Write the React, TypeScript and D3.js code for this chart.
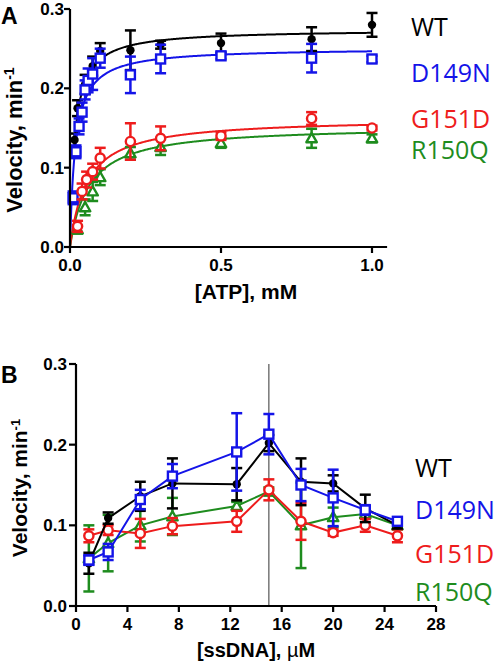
import React from "react";
import * as d3 from "d3";

// ---------- Panel A data: [ATP] (mM) vs velocity ----------
const WT_A_X = [0.015, 0.025, 0.05, 0.075, 0.1, 0.2, 0.3, 0.5, 0.8, 1.0];
const WT_A_V = [0.135, 0.175, 0.205, 0.228, 0.247, 0.248, 0.255, 0.257, 0.262, 0.28];
const WT_A_E = [0.008, 0.01, 0.012, 0.012, 0.01, 0.025, 0.005, 0.012, 0.015, 0.015];

const D149N_A_X = [0.01, 0.02, 0.03, 0.04, 0.05, 0.06, 0.075, 0.1, 0.2, 0.3, 0.5, 0.8, 1.0];
const D149N_A_V = [0.062, 0.12, 0.152, 0.17, 0.198, 0.21, 0.218, 0.238, 0.217, 0.237, 0.241, 0.238, 0.237];
const D149N_A_E = [0.008, 0.008, 0.01, 0.012, 0.012, 0.015, 0.02, 0.012, 0.023, 0.018, 0.004, 0.018, 0.004];

const G151D_A_X = [0.025, 0.04, 0.055, 0.075, 0.1, 0.2, 0.3, 0.5, 0.8, 1.0];
const G151D_A_V = [0.026, 0.07, 0.085, 0.095, 0.112, 0.133, 0.137, 0.14, 0.162, 0.15];
const G151D_A_E = [0.007, 0.01, 0.01, 0.01, 0.013, 0.023, 0.015, 0.005, 0.008, 0.003];

const R150Q_A_X = [0.025, 0.05, 0.075, 0.1, 0.2, 0.3, 0.5, 0.8, 1.0];
const R150Q_A_V = [0.022, 0.05, 0.07, 0.088, 0.118, 0.126, 0.131, 0.137, 0.137];
const R150Q_A_E = [0.005, 0.01, 0.012, 0.01, 0.008, 0.01, 0.006, 0.012, 0.005];

// Michaelis–Menten fit parameters: [Vmax, Km, xStart]
const FIT_WT = [0.2743, 0.016, 0.015];
const FIT_D149N = [0.251, 0.0176, 0];
const FIT_G151D = [0.1626, 0.0557, 0];
const FIT_R150Q = [0.153, 0.0623, 0];

const A_X_TICKS = [0, 0.5, 1.0];
const A_Y_TICKS = [0, 0.1, 0.2, 0.3];

// ---------- Panel B data: [ssDNA] (µM) vs velocity ----------
const SS_X = [1, 2.5, 5, 7.5, 12.5, 15, 17.5, 20, 22.5, 25];
const WT_B = [0.053, 0.109, 0.136, 0.152, 0.151, 0.202, 0.154, 0.152, 0.121, 0.1];
const WT_B_E = [0.013, 0.007, 0.018, 0.031, 0.02, 0.01, 0.029, 0.01, 0.017, 0.004];
const D149N_B = [0.057, 0.067, 0.132, 0.161, 0.191, 0.213, 0.15, 0.134, 0.119, 0.105];
const D149N_B_E = [0.006, 0.01, 0.012, 0.015, 0.048, 0.025, 0.02, 0.035, 0.006, 0.005];
const G151D_B = [0.087, 0.094, 0.09, 0.099, 0.105, 0.144, 0.105, 0.091, 0.1, 0.087];
const G151D_B_E = [0.008, 0.006, 0.018, 0.01, 0.013, 0.013, 0.023, 0.004, 0.008, 0.008];
const R150Q_B = [0.059, 0.078, 0.1, 0.111, 0.124, 0.142, 0.1, 0.11, 0.114, 0.1];
const R150Q_B_E = [0.041, 0.035, 0.02, 0.023, 0.005, 0.005, 0.053, 0.012, 0.005, 0.005];

const B_X_TICKS = [0, 4, 8, 12, 16, 20, 24, 28];
const B_Y_TICKS = [0, 0.1, 0.2, 0.3];
const B_MARK_X = 15;

const SERIES = ["WT", "D149N", "G151D", "R150Q"];

const COL: Record<string, string> = {
  WT: "#000000",
  D149N: "#1414e8",
  G151D: "#ee1c1c",
  R150Q: "#1e8c1e",
};

const TICK_FONT = "'Liberation Sans', Arial, sans-serif";
const LEGEND_FONT = "'Open Sans', 'Liberation Sans', sans-serif";

function Marker({ kind, x, y }: { kind: string; x: number; y: number }) {
  const c = COL[kind];
  if (kind === "WT") return <circle cx={x} cy={y} r={4.2} fill={c} />;
  if (kind === "D149N")
    return <rect x={x - 4.5} y={y - 4.5} width={9} height={9} fill="white" stroke={c} strokeWidth={2.4} />;
  if (kind === "G151D") return <circle cx={x} cy={y} r={4.6} fill="white" stroke={c} strokeWidth={2.4} />;
  const s = 5.2;
  const p = `M${x},${y - s}L${x + s},${y + s * 0.75}L${x - s},${y + s * 0.75}Z`;
  return <path d={p} fill="white" stroke={c} strokeWidth={2.4} strokeLinejoin="round" />;
}

function ErrBar({ x, y0, y1, color }: { x: number; y0: number; y1: number; color: string }) {
  const w = 5.5;
  return (
    <g stroke={color} strokeWidth={2.5}>
      <line x1={x} x2={x} y1={y0} y2={y1} />
      <line x1={x - w} x2={x + w} y1={y0} y2={y0} />
      <line x1={x - w} x2={x + w} y1={y1} y2={y1} />
    </g>
  );
}

export default function App() {
  // Panel A scales
  const xA = d3.scaleLinear().domain([0, 1.05]).range([70, 387.1]);
  const yA = d3.scaleLinear().domain([0, 0.3]).range([247, 9]);
  // Panel B scales
  const xB = d3.scaleLinear().domain([0, 28]).range([76, 436]);
  const yB = d3.scaleLinear().domain([0, 0.3]).range([606, 364]);

  const aData: Record<string, { x: number[]; v: number[]; e: number[]; fit: number[] }> = {
    WT: { x: WT_A_X, v: WT_A_V, e: WT_A_E, fit: FIT_WT },
    D149N: { x: D149N_A_X, v: D149N_A_V, e: D149N_A_E, fit: FIT_D149N },
    G151D: { x: G151D_A_X, v: G151D_A_V, e: G151D_A_E, fit: FIT_G151D },
    R150Q: { x: R150Q_A_X, v: R150Q_A_V, e: R150Q_A_E, fit: FIT_R150Q },
  };
  const bData: Record<string, { v: number[]; e: number[] }> = {
    WT: { v: WT_B, e: WT_B_E },
    D149N: { v: D149N_B, e: D149N_B_E },
    G151D: { v: G151D_B, e: G151D_B_E },
    R150Q: { v: R150Q_B, e: R150Q_B_E },
  };

  const lineA = d3
    .line<[number, number]>()
    .x((d) => xA(d[0]))
    .y((d) => yA(d[1]));
  const lineB = d3
    .line<number>()
    .x((_, i) => xB(SS_X[i]))
    .y((d) => yB(d));

  const fitPath = (fit: number[]) => {
    const [vm, km, x0] = fit;
    const xs = d3.range(0, 401).map((i) => x0 + ((1 - x0) * i) / 400);
    return lineA(xs.map((x) => [x, (vm * x) / (km + x)] as [number, number])) || "";
  };

  const drawOrderA = ["WT", "D149N", "R150Q", "G151D"];
  const drawOrderB = ["R150Q", "G151D", "WT", "D149N"];

  const legendA = [36, 82, 128, 159];
  const legendB = [477, 519, 563, 601];

  return (
    <svg
      width={496}
      height={666}
      style={{ position: "absolute", left: 0, top: 0, background: "white" }}
    >
      <rect x={0} y={0} width={496} height={666} fill="white" />

      {/* ================= Panel A ================= */}
      <text x={1} y={24} fontFamily={TICK_FONT} fontWeight="bold" fontSize={23}>
        A
      </text>

      {drawOrderA.map((k) => (
        <path key={"fa" + k} d={fitPath(aData[k].fit)} fill="none" stroke={COL[k]} strokeWidth={2} />
      ))}
      {drawOrderA.map((k) => (
        <g key={"pa" + k}>
          {aData[k].x.map((x, i) => (
            <ErrBar
              key={i}
              x={xA(x)}
              y0={yA(aData[k].v[i] + aData[k].e[i])}
              y1={yA(aData[k].v[i] - aData[k].e[i])}
              color={COL[k]}
            />
          ))}
          {aData[k].x.map((x, i) => (
            <Marker key={"m" + i} kind={k} x={xA(x)} y={yA(aData[k].v[i])} />
          ))}
        </g>
      ))}

      <g stroke="black" strokeWidth={2.2}>
        <line x1={xA(0)} x2={xA(0)} y1={yA(0.3)} y2={yA(0) + 1} />
        <line x1={xA(0) - 1} x2={xA(1.05)} y1={yA(0)} y2={yA(0)} />
        {A_Y_TICKS.map((t) => (
          <line key={t} x1={xA(0) - 6} x2={xA(0)} y1={yA(t)} y2={yA(t)} />
        ))}
        {A_X_TICKS.map((t) => (
          <line key={t} x1={xA(t)} x2={xA(t)} y1={yA(0)} y2={yA(0) + 6} />
        ))}
      </g>
      {A_Y_TICKS.map((t) => (
        <text
          key={t}
          x={xA(0) - 6}
          y={yA(t) + 6}
          textAnchor="end"
          fontFamily={TICK_FONT}
          fontWeight="bold"
          fontSize={17}
        >
          {d3.format(".1f")(t)}
        </text>
      ))}
      {A_X_TICKS.map((t) => (
        <text
          key={t}
          x={xA(t)}
          y={yA(0) + 24}
          textAnchor="middle"
          fontFamily={TICK_FONT}
          fontWeight="bold"
          fontSize={17}
        >
          {d3.format(".1f")(t)}
        </text>
      ))}
      <text x={246} y={299} textAnchor="middle" fontFamily={TICK_FONT} fontWeight="bold" fontSize={21}>
        [ATP], mM
      </text>
      <text
        transform={`translate(22,${140}) rotate(-90)`}
        textAnchor="middle"
        fontFamily={TICK_FONT}
        fontWeight="bold"
        fontSize={22}
      >
        Velocity, min<tspan baselineShift="super" fontSize={14}>-1</tspan>
      </text>

      {SERIES.map((k, i) => (
        <text key={"la" + k} x={411} y={legendA[i]} fill={COL[k]} fontFamily={LEGEND_FONT} fontSize={25}>
          {k}
        </text>
      ))}

      {/* ================= Panel B ================= */}
      <text x={1} y={383} fontFamily={TICK_FONT} fontWeight="bold" fontSize={23}>
        B
      </text>

      <line
        x1={xB(B_MARK_X)}
        x2={xB(B_MARK_X)}
        y1={yB(0.3)}
        y2={yB(0)}
        stroke="#555"
        strokeWidth={1.2}
      />

      {drawOrderB.map((k) => (
        <g key={"pb" + k}>
          <path d={lineB(bData[k].v) || ""} fill="none" stroke={COL[k]} strokeWidth={2} />
          {SS_X.map((x, i) => (
            <ErrBar
              key={i}
              x={xB(x)}
              y0={yB(bData[k].v[i] + bData[k].e[i])}
              y1={yB(bData[k].v[i] - bData[k].e[i])}
              color={COL[k]}
            />
          ))}
          {SS_X.map((x, i) => (
            <Marker key={"m" + i} kind={k} x={xB(x)} y={yB(bData[k].v[i])} />
          ))}
        </g>
      ))}

      <g stroke="black" strokeWidth={2.2}>
        <line x1={xB(0)} x2={xB(0)} y1={yB(0.3)} y2={yB(0) + 1} />
        <line x1={xB(0) - 1} x2={xB(28)} y1={yB(0)} y2={yB(0)} />
        {B_Y_TICKS.map((t) => (
          <line key={t} x1={xB(0) - 7} x2={xB(0)} y1={yB(t)} y2={yB(t)} />
        ))}
        {B_X_TICKS.map((t) => (
          <line key={t} x1={xB(t)} x2={xB(t)} y1={yB(0)} y2={yB(0) + 6} />
        ))}
      </g>
      {B_Y_TICKS.map((t) => (
        <text
          key={t}
          x={xB(0) - 9}
          y={yB(t) + 6}
          textAnchor="end"
          fontFamily={TICK_FONT}
          fontWeight="bold"
          fontSize={17}
        >
          {d3.format(".1f")(t)}
        </text>
      ))}
      {B_X_TICKS.map((t) => (
        <text
          key={t}
          x={xB(t)}
          y={yB(0) + 24}
          textAnchor="middle"
          fontFamily={TICK_FONT}
          fontWeight="bold"
          fontSize={17}
        >
          {t}
        </text>
      ))}
      <text x={256} y={657} textAnchor="middle" fontFamily={TICK_FONT} fontWeight="bold" fontSize={20}>
        [ssDNA], <tspan fontWeight="normal">µ</tspan>M
      </text>
      <text
        transform={`translate(27,${488}) rotate(-90)`}
        textAnchor="middle"
        fontFamily={TICK_FONT}
        fontWeight="bold"
        fontSize={21}
      >
        Velocity, min<tspan baselineShift="super" fontSize={13}>-1</tspan>
      </text>

      {SERIES.map((k, i) => (
        <text key={"lb" + k} x={415} y={legendB[i]} fill={COL[k]} fontFamily={LEGEND_FONT} fontSize={25}>
          {k}
        </text>
      ))}
    </svg>
  );
}
